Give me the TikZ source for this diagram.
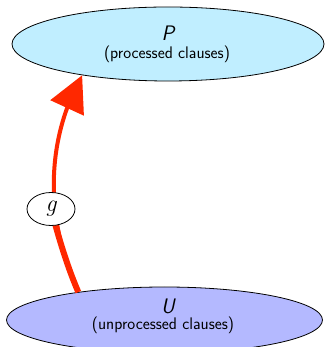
\documentclass[tikz,border=0pt]{standalone}
\usepackage{fontspec}
\usetikzlibrary{shapes.geometric,arrows.meta,bending}
\definecolor{pfill}{RGB}{192,238,255}
\definecolor{ufill}{RGB}{180,185,255}
\definecolor{arrowred}{RGB}{255,40,0}
\tikzset{
  setnode/.style={ellipse,draw=black,line width=0.8pt,inner sep=0pt},
  bigtxt/.style={font=\fontsize{21}{21}\selectfont\sffamily\itshape,inner sep=0pt},
  smalltxt/.style={font=\fontsize{16.8}{17}\selectfont\sffamily,inner sep=0pt},
  labnode/.style={ellipse,draw=black,line width=0.8pt,fill=white,minimum width=48pt,minimum height=33pt,inner sep=0pt,font=\fontsize{24}{24}\selectfont\itshape},
  bigarrow/.style={draw=arrowred,line width=4pt,-{Triangle[length=36pt,width=36pt,flex]}},
  thickshaft/.style={draw=arrowred,line width=6pt}
}
\begin{document}
\begin{tikzpicture}[x=1pt,y=1pt]
\useasboundingbox (0,0) rectangle (326,347);
\clip (0,0) rectangle (326,347);
\node[setnode,fill=pfill,minimum width=312pt,minimum height=74pt] (P) at (168,303) {};
\node[bigtxt,anchor=base] (Pl) at (168,306) {P};
\node[smalltxt,anchor=base] (Ps) at (167,288) {(processed clauses)};
\node[setnode,fill=ufill,minimum width=316pt,minimum height=66pt] (U) at (164.5,27) {};
\node[bigtxt,anchor=base] (Ul) at (168,33) {U};
\node[smalltxt,anchor=base] (Us) at (163,17) {(unprocessed clauses)};
\draw[bigarrow] (U.162) .. controls (48,120) and (42,200) .. (P.200);
\coordinate (gc) at (51,138);
\draw[thickshaft] (U.162) .. controls (67,81) and (58.5,110) .. (gc);
\node[labnode] (g) at (gc) {g};
\end{tikzpicture}
\end{document}
